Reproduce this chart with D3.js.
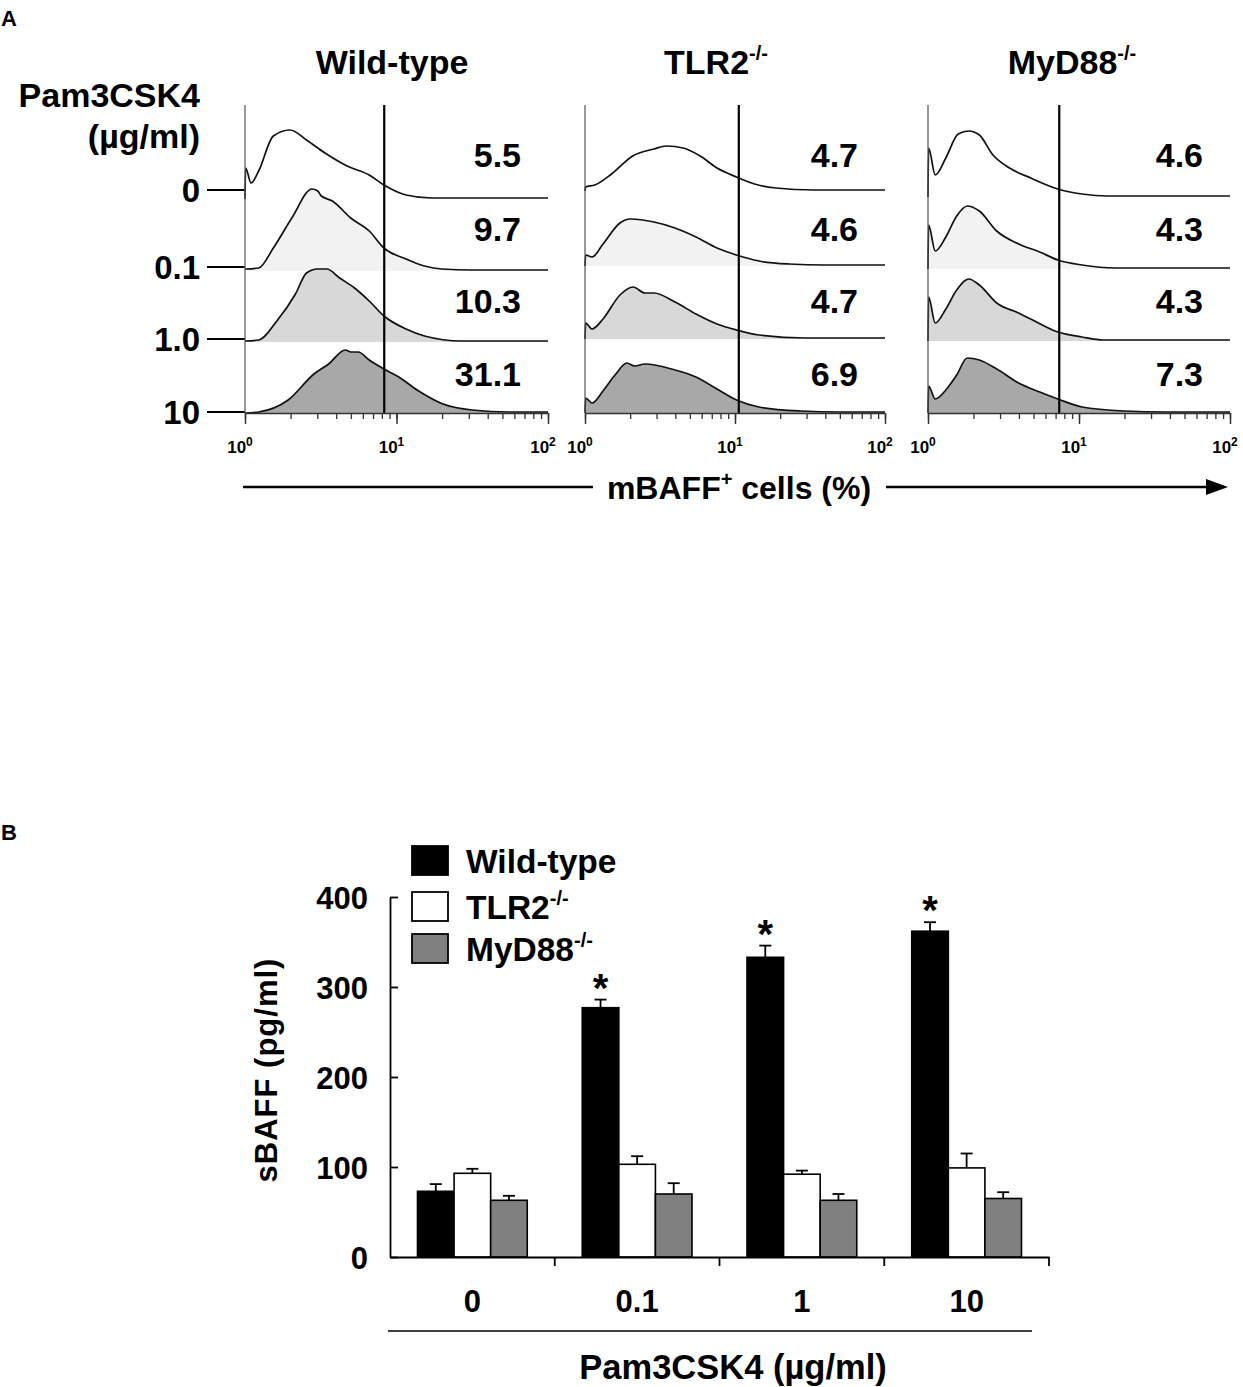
<!DOCTYPE html>
<html><head><meta charset="utf-8">
<script src="https://cdn.jsdelivr.net/npm/d3@7"></script>
<style>
body{margin:0;background:#fff}
text{font-family:"Liberation Sans",Arial,Helvetica,sans-serif;font-weight:bold;fill:#000}
</style>
</head><body>
<svg id="c" width="1243" height="1387"></svg>
<script>
// ---------------- DATA: panel A (flow histograms) ----------------
const strains = ["Wild-type", "TLR2", "MyD88"];
const strainSup = ["", "-/-", "-/-"];
const doseLabels = ["0", "0.1", "1.0", "10"];
const percents = [[5.5, 9.7, 10.3, 31.1], [4.7, 4.6, 4.7, 6.9], [4.6, 4.3, 4.3, 7.3]];
const gates = [8.3, 10.6, 7.4];           // gate position (fluorescence)
const axisTicks = [1, 10, 100];
const axisExp = ["0", "1", "2"];
// histogram points: [log10 fluorescence, count]
const wt0 = [[0,0],[0.004,31],[0.04,16],[0.09,28],[0.187,63],[0.297,69],[0.406,59],[0.528,46],[0.674,33],[0.82,24],[0.917,14],[1.063,4],[1.23,1],[2,1]];
const wt1 = [[0,2],[0.09,3],[0.187,23],[0.309,53],[0.443,82],[0.48,80],[0.504,75],[0.577,70],[0.698,53],[0.82,40],[0.917,23],[1.063,12],[1.185,5],[1.3,2],[1.5,1],[2,1]];
const wt2 = [[0,1],[0.09,2],[0.21,21],[0.333,48],[0.406,69],[0.479,73],[0.54,73],[0.625,64],[0.723,54],[0.82,41],[0.917,26],[1.063,13],[1.185,6],[1.43,1],[2,1]];
const wt3 = [[0,0],[0.09,1],[0.285,13],[0.455,39],[0.552,49],[0.662,63],[0.7,61],[0.747,61],[0.82,53],[0.917,44],[1.015,36],[1.136,23],[1.307,9],[1.5,3],[1.745,1],[2,1]];
const tl0 = [[0,0],[0.004,4],[0.065,6],[0.177,17],[0.318,35],[0.46,42],[0.543,45],[0.655,43],[0.768,35],[0.88,23],[1.01,14],[1.13,7],[1.27,3],[1.53,1],[2,1]];
const tl1 = [[0,0],[0.004,11],[0.047,9],[0.12,22],[0.233,43],[0.3,47],[0.46,44],[0.6,38],[0.74,29],[0.88,18],[1.01,11],[1.16,5],[1.36,2],[1.6,1],[2,1]];
const tl2 = [[0,0],[0.004,16],[0.047,10],[0.12,20],[0.233,44],[0.32,52],[0.4,46],[0.46,46],[0.6,37],[0.74,25],[0.88,15],[1.01,9],[1.16,4],[1.47,1],[2,1]];
const tl3 = [[0,0],[0.004,15],[0.047,10],[0.12,22],[0.2,38],[0.28,50],[0.33,47],[0.4,49],[0.6,43],[0.74,36],[0.88,24],[1.01,13],[1.16,6],[1.44,2],[1.7,1],[2,1]];
const my0 = [[0,0],[0.004,49],[0.048,22],[0.118,39],[0.2,63],[0.27,66],[0.34,62],[0.43,42],[0.54,29],[0.68,19],[0.86,8],[1.02,3],[1.19,1],[2,1]];
const my1 = [[0,0],[0.004,44],[0.048,18],[0.118,32],[0.19,53],[0.26,63],[0.34,58],[0.455,38],[0.6,25],[0.74,17],[0.86,9],[1.02,4],[1.24,1],[2,1]];
const my2 = [[0,0],[0.004,44],[0.048,18],[0.118,32],[0.19,51],[0.27,62],[0.34,56],[0.455,38],[0.6,28],[0.68,22],[0.86,9],[1.02,4],[1.16,1],[2,1]];
const my3 = [[0,0],[0.004,27],[0.048,14],[0.118,23],[0.19,38],[0.26,55],[0.34,53],[0.455,44],[0.6,30],[0.74,21],[0.86,14],[1.02,6],[1.3,2],[1.58,1],[2,1]];
const histograms = [[wt0, wt1, wt2, wt3], [tl0, tl1, tl2, tl3], [my0, my1, my2, my3]];

// ---------------- DATA: panel B (bar chart) ----------------
const categories = ["0", "0.1", "1", "10"];
const series = ["Wild-type", "TLR2", "MyD88"];
const wtValues = [73, 277, 333, 362];
const wtErrors = [8, 9, 13, 10];
const tlr2Values = [93, 103, 92, 99];
const tlr2Errors = [5, 9, 4, 16];
const myd88Values = [63, 70, 63, 65];
const myd88Errors = [5, 12, 7, 7];
const significant = [false, true, true, true];
const yTicks = [0, 100, 200, 300, 400];

// ---------------- drawing ----------------
const svg = d3.select("#c");
function supText(sel, base, sup, supSize, dy) {
  sel.append("tspan").text(base);
  if (sup) sel.append("tspan").attr("font-size", supSize).attr("dy", dy).text(sup);
}

// ===== Panel A =====
svg.append("text").attr("x", 1).attr("y", 26).attr("font-size", 22).text("A");
const panels = [{x0: 245, x1: 548}, {x0: 585, x1: 885}, {x0: 928, x1: 1230}];
const titleCx = [392, 716, 1072];
const rowBases = [[199, 271, 342, 413], [191, 266, 339, 413], [197, 269, 341, 413]];
const labelCy = [155, 229, 301, 374];
const topY = 105;
const fills = ["#ffffff", "#f2f2f2", "#d8d8d8", "#a8a8a8"];
const countScale = d3.scaleLinear().domain([0, 100]).range([0, 100]);

svg.append("text").attr("x", 200).attr("y", 107).attr("font-size", 34).attr("text-anchor", "end").text("Pam3CSK4");
svg.append("text").attr("x", 200).attr("y", 148).attr("font-size", 34).attr("text-anchor", "end").text("(\u00b5g/ml)");
const rowLabelCy = [190, 267, 339, 412];
doseLabels.forEach((d, i) => {
  svg.append("text").attr("x", 200).attr("y", rowLabelCy[i] + 12).attr("font-size", 33)
    .attr("text-anchor", "end").text(d);
  svg.append("line").attr("x1", 207).attr("x2", 245).attr("y1", rowLabelCy[i]).attr("y2", rowLabelCy[i])
    .attr("stroke", "#000").attr("stroke-width", 2);
});

panels.forEach((p, pi) => {
  const x = d3.scaleLog().domain([1, 100]).range([p.x0, p.x1]);
  const g = svg.append("g");
  supText(g.append("text").attr("x", titleCx[pi]).attr("y", 74).attr("font-size", 34)
    .attr("text-anchor", "middle"), strains[pi], strainSup[pi], 20, -14);
  rowBases[pi].forEach((b, ri) => {
    const data = histograms[pi][ri];
    const area = d3.area().x(d => x(Math.pow(10, d[0]))).y0(b).y1(d => b - countScale(d[1])).curve(d3.curveMonotoneX);
    const line = d3.line().x(d => x(Math.pow(10, d[0]))).y(d => b - countScale(d[1])).curve(d3.curveMonotoneX);
    g.append("path").attr("d", area(data)).attr("fill", fills[ri]);
    g.append("path").attr("d", line(data)).attr("fill", "none").attr("stroke", "#111").attr("stroke-width", 1.7);
    g.append("text").attr("x", p.x1 - 27).attr("y", labelCy[ri] + 12).attr("font-size", 34).attr("text-anchor", "end")
      .text(percents[pi][ri]);
  });
  g.append("line").attr("x1", p.x0).attr("x2", p.x0).attr("y1", topY).attr("y2", 413)
    .attr("stroke", "#555").attr("stroke-width", 1.2);
  g.append("line").attr("x1", x(gates[pi])).attr("x2", x(gates[pi])).attr("y1", topY).attr("y2", 413)
    .attr("stroke", "#000").attr("stroke-width", 2.2);
  const minor = g.append("g").attr("transform", "translate(0,413)")
    .call(d3.axisBottom(x).tickValues(x.ticks()).tickSize(6).tickFormat(""));
  minor.select(".domain").remove();
  minor.selectAll("line").attr("stroke", "#333").attr("stroke-width", 1.3);
  const major = g.append("g").attr("transform", "translate(0,413)")
    .call(d3.axisBottom(x).tickValues(axisTicks).tickSize(11).tickSizeOuter(0).tickFormat(""));
  major.select(".domain").attr("stroke", "#333").attr("stroke-width", 1.5);
  major.selectAll("line").attr("stroke", "#333").attr("stroke-width", 1.5);
  axisTicks.forEach((t, ti) => {
    supText(g.append("text").attr("x", x(t) - 5).attr("y", 453).attr("font-size", 17)
      .attr("text-anchor", "middle"), "10", axisExp[ti], 12, -7);
  });
});
// x-axis arrow
svg.append("line").attr("x1", 243).attr("x2", 593).attr("y1", 487).attr("y2", 487).attr("stroke", "#000").attr("stroke-width", 2.5);
svg.append("line").attr("x1", 886).attr("x2", 1212).attr("y1", 487).attr("y2", 487).attr("stroke", "#000").attr("stroke-width", 2.5);
svg.append("path").attr("d", "M1206,479 L1228,487 L1206,495 Z").attr("fill", "#000");
{
  const t = svg.append("text").attr("x", 739).attr("y", 499).attr("font-size", 32).attr("text-anchor", "middle");
  t.append("tspan").text("mBAFF");
  t.append("tspan").attr("font-size", 20).attr("dy", -13).text("+");
  t.append("tspan").attr("dy", 13).text(" cells (%)");
}

// ===== Panel B =====
svg.append("text").attr("x", 1).attr("y", 840).attr("font-size", 22).text("B");
const y = d3.scaleLinear().domain([0, 400]).range([1257, 897]);
const x0 = d3.scaleBand().domain(categories).range([390, 1049]);
const x1 = d3.scaleBand().domain(series).range([27.5, x0.bandwidth() - 27.5]);
const barFill = {"Wild-type": "#000", "TLR2": "#fff", "MyD88": "#808080"};
const valuesBy = {"Wild-type": wtValues, "TLR2": tlr2Values, "MyD88": myd88Values};
const errorsBy = {"Wild-type": wtErrors, "TLR2": tlr2Errors, "MyD88": myd88Errors};
const gb = svg.append("g");
categories.forEach((c, ci) => {
  series.forEach(s => {
    const v = valuesBy[s][ci], e = errorsBy[s][ci];
    const bx = x0(c) + x1(s), bw = x1.bandwidth();
    const cx = bx + bw / 2;
    gb.append("line").attr("x1", cx).attr("x2", cx).attr("y1", y(v)).attr("y2", y(v + e)).attr("stroke", "#000").attr("stroke-width", 1.8);
    gb.append("line").attr("x1", cx - 6).attr("x2", cx + 6).attr("y1", y(v + e)).attr("y2", y(v + e)).attr("stroke", "#000").attr("stroke-width", 1.8);
    gb.append("rect").attr("x", bx).attr("y", y(v)).attr("width", bw).attr("height", y(0) - y(v))
      .attr("fill", barFill[s]).attr("stroke", "#000").attr("stroke-width", 1.6);
    if (s === "Wild-type" && significant[ci]) {
      gb.append("text").attr("x", cx).attr("y", y(v + e) + 2).attr("font-size", 40).attr("text-anchor", "middle").text("*");
    }
  });
});
const ya = gb.append("g").attr("transform", "translate(390,0)")
  .call(d3.axisLeft(y).tickValues(yTicks).tickSizeInner(-8).tickSizeOuter(0).tickPadding(22));
ya.select(".domain").attr("stroke", "#000").attr("stroke-width", 1.8);
ya.selectAll(".tick line").attr("stroke", "#000").attr("stroke-width", 1.8);
ya.selectAll(".tick text").attr("font-size", 31).attr("font-family", null).attr("dy", "0.36em");
const xa = gb.append("g").attr("transform", "translate(0,1257)")
  .call(d3.axisBottom(x0).tickSize(0).tickPadding(33));
xa.select(".domain").attr("stroke", "#000").attr("stroke-width", 1.8);
xa.selectAll(".tick text").attr("font-size", 31).attr("font-family", null);
categories.forEach(c => {
  const bx = x0(c) + x0.bandwidth();
  gb.append("line").attr("x1", bx).attr("x2", bx).attr("y1", 1257).attr("y2", 1266).attr("stroke", "#000").attr("stroke-width", 1.8);
});
gb.append("line").attr("x1", 388).attr("x2", 1032).attr("y1", 1331).attr("y2", 1331).attr("stroke", "#000").attr("stroke-width", 1.5);
gb.append("text").attr("x", 733).attr("y", 1379).attr("font-size", 34.5).attr("text-anchor", "middle").text("Pam3CSK4 (\u00b5g/ml)");
gb.append("text").attr("transform", "translate(277,1070) rotate(-90)").attr("font-size", 31)
  .attr("text-anchor", "middle").attr("letter-spacing", 1).text("sBAFF (pg/ml)");
const legY = [846, 892, 934];
series.forEach((s, i) => {
  gb.append("rect").attr("x", 412).attr("y", legY[i]).attr("width", 36).attr("height", 29)
    .attr("fill", barFill[s]).attr("stroke", "#000").attr("stroke-width", 1.8);
  supText(gb.append("text").attr("x", 466).attr("y", legY[i] + 27).attr("font-size", 33.5), s, s === "Wild-type" ? "" : "-/-", 20, -14);
});
</script>
</body></html>
